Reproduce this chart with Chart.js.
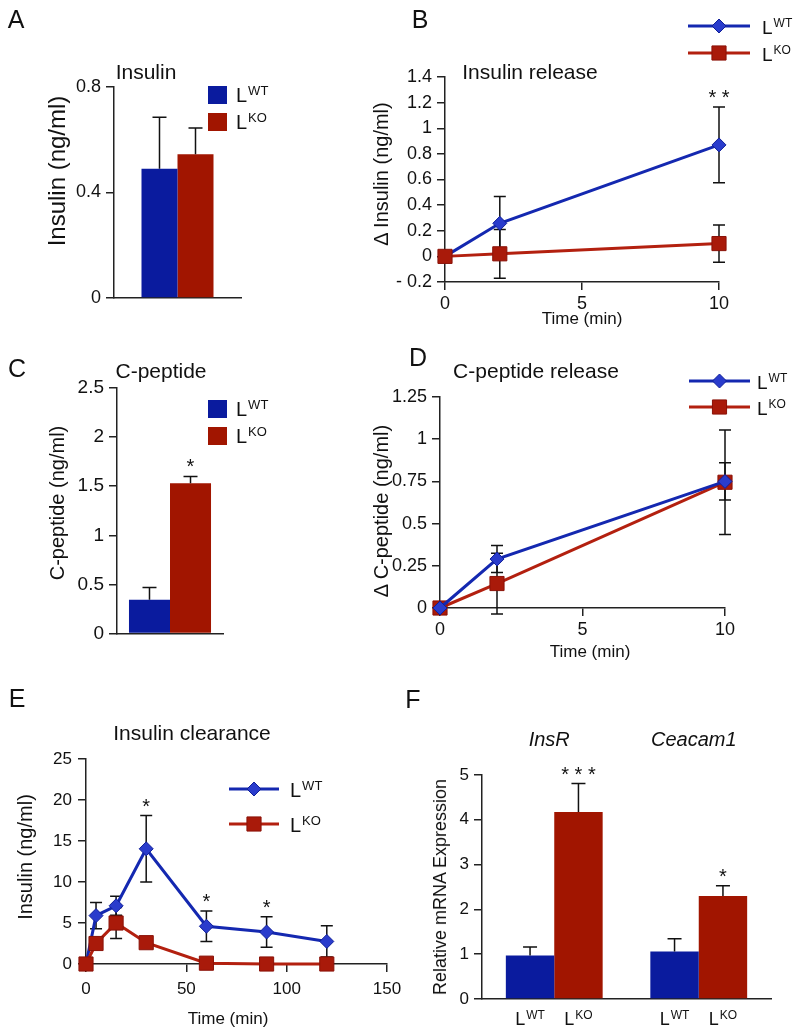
<!DOCTYPE html>
<html>
<head>
<meta charset="utf-8">
<script src="https://cdn.jsdelivr.net/npm/chart.js@4.4.1/dist/chart.umd.min.js"></script>
<style>
  body { margin: 0; background: #fff; }
  #page { position: relative; width: 800px; height: 1035px; overflow: hidden; font-family: 'Liberation Sans', Arial, Helvetica, sans-serif; color: #111; }
  canvas { position: absolute; }
  .t { position: absolute; transform: translate(-50%, -50%); line-height: 1; white-space: nowrap; }
  .yt { position: absolute; transform: translate(-50%, -50%) rotate(-90deg); line-height: 1; white-space: nowrap; }
</style>
</head>
<body>
<div id="page">
  <canvas id="cA" width="300" height="320" style="left:0;top:0"></canvas>
  <canvas id="cB" width="420" height="335" style="left:380px;top:0"></canvas>
  <canvas id="cC" width="300" height="310" style="left:0;top:340px"></canvas>
  <canvas id="cD" width="420" height="320" style="left:380px;top:340px"></canvas>
  <canvas id="cE" width="420" height="375" style="left:0;top:660px"></canvas>
  <canvas id="cF" width="400" height="375" style="left:400px;top:660px"></canvas>

  <div class="t" style="left:16px;top:19px;font-size:25px">A</div>
  <div class="t" style="left:420px;top:19px;font-size:25px">B</div>
  <div class="t" style="left:17px;top:368px;font-size:25px">C</div>
  <div class="t" style="left:418px;top:357px;font-size:25px">D</div>
  <div class="t" style="left:17px;top:698px;font-size:25px">E</div>
  <div class="t" style="left:413px;top:699px;font-size:25px">F</div>

  <div class="t" style="left:146px;top:71px;font-size:21px">Insulin</div>
  <div class="t" style="left:530px;top:71px;font-size:21px">Insulin release</div>
  <div class="t" style="left:161px;top:370px;font-size:21px">C-peptide</div>
  <div class="t" style="left:536px;top:370px;font-size:21px">C-peptide release</div>
  <div class="t" style="left:192px;top:732px;font-size:21px">Insulin clearance</div>

  <div class="yt" style="left:57px;top:171px;font-size:24px">Insulin (ng/ml)</div>
  <div class="yt" style="left:381px;top:174px;font-size:20px">Δ Insulin (ng/ml)</div>
  <div class="yt" style="left:57px;top:503px;font-size:20px">C-peptide (ng/ml)</div>
  <div class="yt" style="left:381px;top:511px;font-size:20px">Δ C-peptide (ng/ml)</div>
  <div class="yt" style="left:25px;top:857px;font-size:20px">Insulin (ng/ml)</div>
  <div class="yt" style="left:440px;top:887px;font-size:18px">Relative mRNA Expression</div>

  <div class="t" style="left:582px;top:318px;font-size:17px">Time (min)</div>
  <div class="t" style="left:590px;top:651px;font-size:17px">Time (min)</div>
  <div class="t" style="left:228px;top:1018px;font-size:17px">Time (min)</div>
</div>

<script>
const FONT = "'Liberation Sans', Arial, Helvetica, sans-serif";

// groups
const strains = ['WT', 'KO'];

// A - fasting insulin
const insulinWT = [0.49], insulinWTse = [0.195];
const insulinKO = [0.545], insulinKOse = [0.10];

// B - insulin release
const releaseTime = [0, 2, 10];
const insRelWT = [0, 0.258, 0.87], insRelWTse = [0, 0.21, 0.295];
const insRelKO = [0, 0.02, 0.10], insRelKOse = [0, 0.19, 0.145];
const insRelStars = ['', '', '* *'];

// C - C-peptide
const cpepWT = [0.345], cpepWTse = [0.125];
const cpepKO = [1.53], cpepKOse = [0.07];
const cpepStars = ['*'];

// D - C-peptide release
const cpepRelWT = [0, 0.29, 0.75], cpepRelWTse = [0, 0.08, 0.11];
const cpepRelKO = [0, 0.145, 0.745], cpepRelKOse = [0, 0.18, 0.31];

// E - insulin clearance
const clearTime = [0, 5, 15, 30, 60, 90, 120];
const clearWT = [0, 5.9, 7.1, 14.05, 4.6, 3.9, 2.75];
const clearWTse = [0, 1.6, 1.15, 4.05, 1.85, 1.85, 1.9];
const clearKO = [0, 2.5, 5.0, 2.6, 0.1, 0, 0];
const clearKOse = [0, 0, 1.9, 0.6, 0, 0, 0];
const clearStars = ['', '', '', '*', '*', '*', ''];

// F - mRNA
const genes = ['InsR', 'Ceacam1'];
const mrnaWT = [0.97, 1.06], mrnaWTse = [0.19, 0.285];
const mrnaKO = [4.175, 2.30], mrnaKOse = [0.635, 0.23];
const mrnaStars = ['* * *', '*'];

const barBlue = '#0a1b9e', barRed = '#a11500';
const lineBlue = '#1428b0', ptBlue = '#2a3ccc', edgeBlue = '#101f99';
const lineRed = '#b3200f', ptRed = '#a91a0a', edgeRed = '#8a1208';

Chart.defaults.font.family = FONT;
Chart.defaults.color = '#111';
Chart.defaults.animation = false;
Chart.defaults.responsive = false;
Chart.defaults.plugins.legend.display = false;
Chart.defaults.plugins.tooltip.enabled = false;

const num = v => String(Math.round(v * 1000) / 1000 || 0);
const negNum = v => {
  const r = Math.round(v * 1000) / 1000;
  return r < 0 ? '- ' + num(-r) : num(r);
};

function supText(ctx, base, sup, x, y, size, center) {
  ctx.font = size + 'px ' + FONT;
  const w1 = ctx.measureText(base).width;
  const ss = Math.round(size * 0.65);
  ctx.font = ss + 'px ' + FONT;
  const w2 = ctx.measureText(sup).width;
  const x0 = center ? x - (w1 + 1 + w2) / 2 : x;
  ctx.textAlign = 'left';
  ctx.textBaseline = 'alphabetic';
  ctx.fillStyle = '#111';
  ctx.font = size + 'px ' + FONT;
  ctx.fillText(base, x0, y);
  ctx.font = ss + 'px ' + FONT;
  ctx.fillText(sup, x0 + w1 + 1, y - size * 0.36);
}

function valueOf(d) { return typeof d === 'object' ? d.y : d; }

function drawErrors(chart) {
  const o = chart.options.plugins.errorBars || {};
  const ctx = chart.ctx, ys = chart.scales.y;
  ctx.save();
  ctx.strokeStyle = '#111';
  ctx.lineWidth = 1.5;
  chart.data.datasets.forEach((ds, i) => {
    if (!ds.se) return;
    chart.getDatasetMeta(i).data.forEach((el, j) => {
      const v = valueOf(ds.data[j]), e = ds.se[j];
      if (!e) return;
      const top = ys.getPixelForValue(v + e);
      const bot = o.up ? ys.getPixelForValue(v) : ys.getPixelForValue(v - e);
      const w = o.cap || 6;
      ctx.beginPath();
      ctx.moveTo(el.x, top); ctx.lineTo(el.x, bot);
      ctx.moveTo(el.x - w, top); ctx.lineTo(el.x + w, top);
      if (!o.up) { ctx.moveTo(el.x - w, bot); ctx.lineTo(el.x + w, bot); }
      ctx.stroke();
    });
  });
  ctx.restore();
}

function drawStars(chart) {
  const ctx = chart.ctx, ys = chart.scales.y;
  ctx.save();
  ctx.fillStyle = '#111';
  ctx.font = '20px ' + FONT;
  ctx.textAlign = 'center';
  ctx.textBaseline = 'alphabetic';
  chart.data.datasets.forEach((ds, i) => {
    if (!ds.stars) return;
    chart.getDatasetMeta(i).data.forEach((el, j) => {
      if (!ds.stars[j]) return;
      const v = valueOf(ds.data[j]) + (ds.se ? ds.se[j] : 0);
      ctx.fillText(ds.stars[j], el.x, ys.getPixelForValue(v) - 3);
    });
  });
  ctx.restore();
}

const errorBars = {
  id: 'errorBars',
  beforeDatasetsDraw(chart) { if (!chart.options.plugins.errorBars.up) drawErrors(chart); },
  afterDatasetsDraw(chart) {
    if (chart.options.plugins.errorBars.up) drawErrors(chart);
    drawStars(chart);
  }
};

const keyBox = {
  id: 'keyBox',
  afterDraw(chart) {
    const o = chart.options.plugins.keyBox;
    if (!o || !o.x) return;
    const ctx = chart.ctx;
    chart.data.datasets.forEach((ds, i) => {
      const y = o.y + i * o.gap;
      ctx.save();
      if (o.box) {
        ctx.fillStyle = ds.backgroundColor;
        ctx.fillRect(o.x, y - 9, 19, 18);
      } else {
        ctx.strokeStyle = ds.borderColor;
        ctx.lineWidth = 3;
        ctx.beginPath(); ctx.moveTo(o.x, y); ctx.lineTo(o.x + o.len, y); ctx.stroke();
        ctx.fillStyle = ds.pointBackgroundColor;
        ctx.strokeStyle = ds.pointBorderColor;
        ctx.lineWidth = 1;
        Chart.helpers.drawPoint(ctx, { pointStyle: ds.pointStyle, radius: ds.pointRadius, borderWidth: 1, rotation: 0 }, o.x + o.len / 2, y);
      }
      supText(ctx, 'L', ds.label, o.tx, y + o.base, o.size, false);
      ctx.restore();
    });
  }
};

const barLabels = {
  id: 'barLabels',
  afterDraw(chart) {
    const o = chart.options.plugins.barLabels;
    if (!o || !o.on) return;
    const ctx = chart.ctx, area = chart.chartArea;
    chart.data.datasets.forEach((ds, i) => {
      chart.getDatasetMeta(i).data.forEach(el => {
        supText(ctx, 'L', ds.label, el.x, area.bottom + 26, 18, true);
      });
    });
    ctx.save();
    ctx.font = 'italic 20px ' + FONT;
    ctx.textAlign = 'center';
    ctx.textBaseline = 'middle';
    ctx.fillStyle = '#111';
    chart.data.labels.forEach((g, j) => {
      ctx.fillText(g, chart.scales.x.getPixelForValue(j) - 5, area.top - 35);
    });
    ctx.restore();
  }
};

Chart.register(errorBars, keyBox, barLabels);

function yAxis(min, max, step, size, width, pad, fmt) {
  return {
    min, max,
    ticks: { stepSize: step, font: { size }, padding: pad, color: '#111', callback: fmt || num },
    grid: { drawOnChartArea: false, tickLength: 8, color: '#222', lineWidth: 1.5 },
    border: { color: '#222', width: 1.5 },
    afterFit: s => { s.width = width; }
  };
}
function xLinear(min, max, step, size, height, pad) {
  return {
    type: 'linear', min, max,
    ticks: { stepSize: step, font: { size }, padding: pad, color: '#111', callback: num, maxRotation: 0 },
    grid: { drawOnChartArea: false, tickLength: 8, color: '#222', lineWidth: 1.5 },
    border: { color: '#222', width: 1.5 },
    afterFit: s => { s.height = height; }
  };
}
function xCat(height) {
  return {
    grid: { display: false },
    ticks: { display: false },
    border: { color: '#222', width: 1.5 },
    afterFit: s => { s.height = height; }
  };
}
function pad(W, l, t, r) { return { padding: { left: 0, top: t, right: W - r, bottom: 0 } }; }

function barSet(label, values, se, color, pct, stars) {
  return { label, data: values, se, stars, backgroundColor: color, borderWidth: 0, barPercentage: 1, categoryPercentage: pct };
}
function lineSet(label, xs, ys, se, wt, order, stars) {
  return {
    label, data: xs.map((x, i) => ({ x, y: ys[i] })), se, stars, order,
    borderColor: wt ? lineBlue : lineRed, borderWidth: 3,
    pointStyle: wt ? 'rectRot' : 'rect', pointRadius: wt ? 7 : 10,
    pointBackgroundColor: wt ? ptBlue : ptRed, pointBorderColor: wt ? edgeBlue : edgeRed, pointBorderWidth: 1,
    clip: false, tension: 0
  };
}

// A
new Chart(document.getElementById('cA'), {
  type: 'bar',
  data: { labels: ['Insulin'], datasets: [
    barSet(strains[0], insulinWT, insulinWTse, barBlue, 0.567),
    barSet(strains[1], insulinKO, insulinKOse, barRed, 0.567)
  ] },
  options: {
    layout: pad(300, 114, 87, 241),
    scales: { x: xCat(22), y: yAxis(0, 0.8, 0.4, 18, 114, 5) },
    plugins: { errorBars: { up: true, cap: 7 }, keyBox: { box: true, x: 208, y: 95, gap: 27, tx: 236, base: 7, size: 20 } }
  }
});

// B
new Chart(document.getElementById('cB'), {
  type: 'line',
  data: { datasets: [
    lineSet(strains[0], releaseTime, insRelWT, insRelWTse, true, 1, insRelStars),
    lineSet(strains[1], releaseTime, insRelKO, insRelKOse, false, 0)
  ] },
  options: {
    layout: pad(420, 65, 77, 339),
    scales: { x: xLinear(0, 10, 5, 18, 53, 3), y: yAxis(-0.2, 1.4, 0.2, 18, 65, 5, negNum) },
    plugins: { errorBars: { cap: 6 }, keyBox: { x: 308, y: 26, gap: 27, len: 62, tx: 382, base: 8, size: 19 } }
  }
});

// C
new Chart(document.getElementById('cC'), {
  type: 'bar',
  data: { labels: ['C-peptide'], datasets: [
    barSet(strains[0], cpepWT, cpepWTse, barBlue, 0.774),
    barSet(strains[1], cpepKO, cpepKOse, barRed, 0.774, cpepStars)
  ] },
  options: {
    layout: pad(300, 117, 48, 223),
    scales: { x: xCat(14), y: yAxis(0, 2.5, 0.5, 19, 117, 5) },
    plugins: { errorBars: { up: true, cap: 7 }, keyBox: { box: true, x: 208, y: 69, gap: 27, tx: 236, base: 7, size: 20 } }
  }
});

// D
new Chart(document.getElementById('cD'), {
  type: 'line',
  data: { datasets: [
    lineSet(strains[0], releaseTime, cpepRelWT, cpepRelWTse, true, 0),
    lineSet(strains[1], releaseTime, cpepRelKO, cpepRelKOse, false, 1)
  ] },
  options: {
    layout: pad(420, 60, 57, 345),
    scales: { x: xLinear(0, 10, 5, 18, 52, 3), y: yAxis(0, 1.25, 0.25, 18, 60, 5) },
    plugins: { errorBars: { cap: 6 }, keyBox: { x: 309, y: 41, gap: 26, len: 61, tx: 377, base: 8, size: 19 } }
  }
});

// E
new Chart(document.getElementById('cE'), {
  type: 'line',
  data: { datasets: [
    lineSet(strains[0], clearTime, clearWT, clearWTse, true, 1, clearStars),
    lineSet(strains[1], clearTime, clearKO, clearKOse, false, 0)
  ] },
  options: {
    layout: pad(420, 86, 99, 387),
    scales: { x: xLinear(0, 150, 50, 17, 71, 7), y: yAxis(0, 25, 5, 17, 86, 6) },
    plugins: { errorBars: { cap: 6 }, keyBox: { x: 229, y: 129, gap: 35, len: 50, tx: 290, base: 8, size: 20 } }
  }
});

// F
new Chart(document.getElementById('cF'), {
  type: 'bar',
  data: { labels: genes, datasets: [
    barSet(strains[0], mrnaWT, mrnaWTse, barBlue, 0.67),
    barSet(strains[1], mrnaKO, mrnaKOse, barRed, 0.67, mrnaStars)
  ] },
  options: {
    layout: pad(400, 82, 115, 371),
    scales: { x: xCat(36), y: yAxis(0, 5, 1, 17, 82, 5) },
    plugins: { errorBars: { up: true, cap: 7 }, barLabels: { on: true } }
  }
});
</script>
</body>
</html>
